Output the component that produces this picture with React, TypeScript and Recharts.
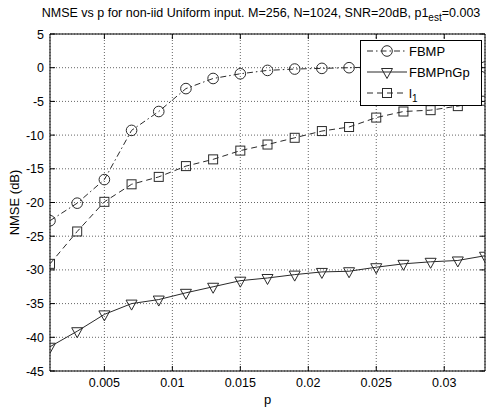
import React from 'react';
import { LineChart, Line, XAxis, YAxis, CartesianGrid, ReferenceArea } from 'recharts';

// sparsity levels on the x axis
const pValues = [0.001, 0.003, 0.005, 0.007, 0.009, 0.011, 0.013, 0.015, 0.017, 0.019, 0.021, 0.023, 0.025, 0.027, 0.029, 0.031, 0.033];
const fbmp = [-22.7, -20.1, -16.6, -9.3, -6.5, -3.1, -1.6, -0.9, -0.4, -0.2, -0.1, 0.0, 0.1, 0.1, 0.2, 0.2, 0.1];
const fbmpnGp = [-41.4, -39.1, -36.6, -35.0, -34.4, -33.4, -32.5, -31.6, -31.2, -30.7, -30.3, -30.2, -29.6, -29.1, -28.8, -28.6, -27.9];
const l1 = [-29.1, -24.3, -19.9, -17.3, -16.2, -14.6, -13.6, -12.3, -11.4, -10.4, -9.4, -8.8, -7.4, -6.5, -6.3, -5.7, -4.9];
const xTicks = [0.005, 0.01, 0.015, 0.02, 0.025, 0.03];
const yTicks = [5, 0, -5, -10, -15, -20, -25, -30, -35, -40, -45];

const rows = pValues.map((p, i) => ({ p, fbmp: fbmp[i], fbmpnGp: fbmpnGp[i], l1: l1[i] }));

const W = 494;
const H = 413;
const PLOT_TOP = 34;
const PLOT_BOTTOM = 371;
const PLOT_LEFT = 50;
const PLOT_RIGHT = 485;
const INK = '#2a2a2a';
const FONT = '"Liberation Sans", Arial, sans-serif';

const CircleDot = (props: any) => {
  const { cx, cy, key } = props;
  return <circle key={key} cx={cx} cy={cy} r={5.3} fill="none" stroke={INK} strokeWidth={1} />;
};

const TriDot = (props: any) => {
  const { cx, cy, key } = props;
  const pts = `${cx - 5.5},${cy - 3.5} ${cx + 5.5},${cy - 3.5} ${cx},${cy + 6.5}`;
  return <polygon key={key} points={pts} fill="none" stroke={INK} strokeWidth={1} />;
};

const SquareDot = (props: any) => {
  const { cx, cy, key } = props;
  return <rect key={key} x={cx - 4.5} y={cy - 4.5} width={9} height={9} fill="none" stroke={INK} strokeWidth={1} />;
};

const XTick = (props: any) => {
  const { x, y, payload } = props;
  return (
    <g>
      <line x1={x} x2={x} y1={y} y2={y - 5} stroke="#000" />
      <line x1={x} x2={x} y1={PLOT_TOP} y2={PLOT_TOP + 5} stroke="#000" />
      <text x={x} y={y + 16} textAnchor="middle" fontSize={12.5} fill="#000" fontFamily={FONT}>
        {payload.value}
      </text>
    </g>
  );
};

const YTick = (props: any) => {
  const { x, y, payload } = props;
  return (
    <g>
      <line x1={x} x2={x + 5} y1={y} y2={y} stroke="#000" />
      <line x1={PLOT_RIGHT} x2={PLOT_RIGHT - 5} y1={y} y2={y} stroke="#000" />
      <text x={x - 6} y={y + 4.5} textAnchor="end" fontSize={12.5} fill="#000" fontFamily={FONT}>
        {payload.value}
      </text>
    </g>
  );
};

const legendItems = [
  { name: 'FBMP', dash: '6 3 1.5 3', Marker: CircleDot },
  { name: 'FBMPnGp', dash: undefined, Marker: TriDot },
  { name: 'l', sub: '1', dash: '6 4', Marker: SquareDot },
];

// legend box drawn over the plot, upper right like the original
const LegendBox = () => (
  <div style={{ position: 'absolute', left: 360, top: 40, width: 122, height: 66, border: '1px solid #000', background: '#fff', boxSizing: 'border-box' }}>
    <svg width={120} height={64}>
      {legendItems.map((it, i) => {
        const cy = 10 + i * 21;
        return (
          <g key={it.name}>
            <line x1={6} x2={46} y1={cy} y2={cy} stroke={INK} strokeDasharray={it.dash} />
            {it.Marker({ cx: 26, cy })}
            <text x={48} y={cy + 4.5} fontSize={13} fontFamily={FONT} fill="#000">
              {it.name}
              {it.sub && (
                <tspan dy={4} fontSize={10}>
                  {it.sub}
                </tspan>
              )}
            </text>
          </g>
        );
      })}
    </svg>
  </div>
);

export default function App() {
  return (
    <div style={{ position: 'absolute', left: 0, top: 0, width: W, height: H, background: '#fff', fontFamily: FONT }}>
      <svg style={{ position: 'absolute', left: 0, top: 0 }} width={W} height={30}>
        <text x={261} y={17} textAnchor="middle" fontSize={12.5} fontFamily={FONT} fill="#000">
          NMSE vs p for non-iid Uniform input. M=256, N=1024, SNR=20dB, p1
          <tspan dy={4} fontSize={10}>est</tspan>
          <tspan dy={-4}>=0.003</tspan>
        </text>
      </svg>
      <LineChart width={W} height={H} data={rows} margin={{ top: PLOT_TOP, right: W - PLOT_RIGHT, bottom: 0, left: 0 }}>
        <CartesianGrid stroke="#666" strokeDasharray="1 2" />
        <XAxis
          dataKey="p"
          type="number"
          domain={[0.001, 0.033]}
          ticks={xTicks}
          allowDataOverflow
          height={H - PLOT_BOTTOM}
          tickSize={0}
          tickMargin={0}
          tickLine={false}
          axisLine={false}
          tick={<XTick />}
          interval={0}
          label={(p: any) => {
            const vb = p.viewBox || {};
            return (
              <text x={(vb.x ?? PLOT_LEFT) + (vb.width ?? PLOT_RIGHT - PLOT_LEFT) / 2} y={404} textAnchor="middle" fontSize={13} fontFamily={FONT} fill="#000">
                p
              </text>
            );
          }}
        />
        <YAxis
          type="number"
          domain={[-45, 5]}
          ticks={yTicks}
          allowDataOverflow
          width={PLOT_LEFT}
          tickSize={0}
          tickMargin={0}
          tickLine={false}
          axisLine={false}
          tick={<YTick />}
          interval={0}
          label={() => (
            <text transform={`translate(19, ${(PLOT_TOP + PLOT_BOTTOM) / 2}) rotate(-90)`} textAnchor="middle" fontSize={13} fontFamily={FONT} fill="#000">
              NMSE (dB)
            </text>
          )}
        />
        <ReferenceArea x1={0.001} x2={0.033} y1={-45} y2={5} fill="none" stroke="#000" strokeWidth={1} fillOpacity={0} />
        <Line dataKey="fbmp" stroke={INK} strokeWidth={1} strokeDasharray="6 3 1.5 3" dot={CircleDot} activeDot={false} isAnimationActive={false} />
        <Line dataKey="fbmpnGp" stroke={INK} strokeWidth={1} dot={TriDot} activeDot={false} isAnimationActive={false} />
        <Line dataKey="l1" stroke={INK} strokeWidth={1} strokeDasharray="6 4" dot={SquareDot} activeDot={false} isAnimationActive={false} />
      </LineChart>
      <LegendBox />
    </div>
  );
}
